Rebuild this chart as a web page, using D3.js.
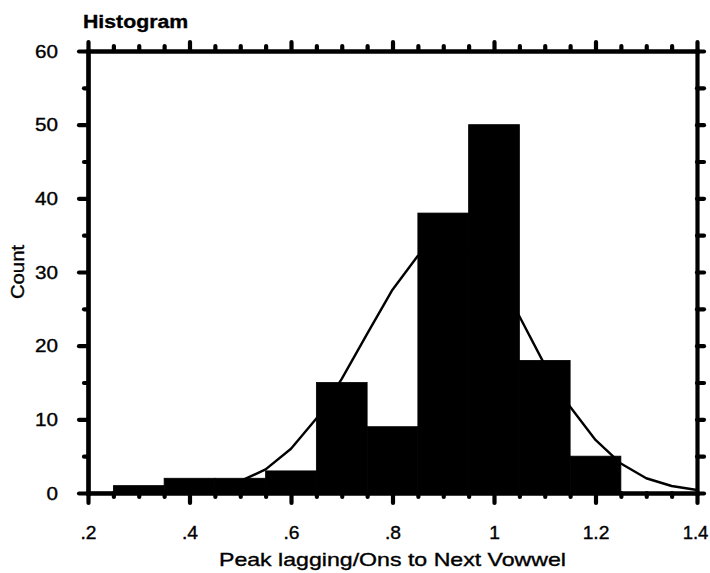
<!DOCTYPE html>
<html>
<head>
<meta charset="utf-8">
<script src="https://cdn.jsdelivr.net/npm/d3@7"></script>
<style>
  html, body { margin: 0; padding: 0; background: #fff; }
  svg { display: block; }
  text { font-family: "Liberation Sans", Arial, sans-serif; fill: #000; stroke: #000; stroke-width: 0.35px; }
</style>
</head>
<body>
<svg id="chart" width="710" height="573"></svg>
<script>
// ---- data ----
const binLo  = [0.25, 0.35, 0.45, 0.55, 0.65, 0.75, 0.85, 0.95, 1.05, 1.15];
const binHi  = [0.35, 0.45, 0.55, 0.65, 0.75, 0.85, 0.95, 1.05, 1.15, 1.25];
const counts = [1, 2, 2, 3, 15, 9, 38, 50, 18, 5];

// fitted normal curve as drawn on the chart (x, count)
const curveX = [0.20, 0.25, 0.30, 0.35, 0.40, 0.45, 0.50, 0.55, 0.60, 0.65, 0.70, 0.75, 0.80,
                0.85, 0.90, 0.95, 1.00, 1.05, 1.10, 1.15, 1.20, 1.25, 1.30, 1.35, 1.40];
const curveY = [0.0, 0.01, 0.04, 0.11, 0.30, 0.73, 1.6, 3.2, 6.0, 10.1, 15.5, 21.6, 27.6,
                32.2, 34.2, 33.1, 29.3, 24.0, 17.4, 11.7, 7.2, 4.0, 2.0, 0.95, 0.40];

const xMajor = [0.2, 0.4, 0.6, 0.8, 1.0, 1.2, 1.4];
const xLabels = [".2", ".4", ".6", ".8", "1", "1.2", "1.4"];
const xMinor = [0.25, 0.3, 0.35, 0.45, 0.5, 0.55, 0.65, 0.7, 0.75, 0.85, 0.9, 0.95,
                1.05, 1.1, 1.15, 1.25, 1.3, 1.35];
const yMajor = [0, 10, 20, 30, 40, 50, 60];
const yLabels = ["0", "10", "20", "30", "40", "50", "60"];
const yMinor = [5, 15, 25, 35, 45, 55];
const yAll = [0, 5, 10, 15, 20, 25, 30, 35, 40, 45, 50, 55, 60];

const titleText = "Histogram";
const xTitle = "Peak lagging/Ons to Next Vowwel";
const yTitle = "Count";

// ---- layout ----
const L = 88, R = 697, T = 51, B = 493;
const svg = d3.select("#chart");
svg.append("rect").attr("width", 710).attr("height", 573).attr("fill", "#fff");

const x = d3.scaleLinear().domain([0.2, 1.4]).range([L, R]);
const y = d3.scaleLinear().domain([0, 60]).range([B, T]);

// bars
svg.append("g").selectAll("rect")
  .data(counts)
  .join("rect")
  .attr("x", (d, i) => x(binLo[i]))
  .attr("width", (d, i) => x(binHi[i]) - x(binLo[i]))
  .attr("y", d => y(d))
  .attr("height", d => y(0) - y(d))
  .attr("fill", "#000")
  .attr("stroke", "#000")
  .attr("stroke-width", 0.8);

// normal curve
const pts = curveX.map((v, i) => [v, curveY[i]]);
svg.append("path")
  .datum(pts)
  .attr("fill", "none")
  .attr("stroke", "#000")
  .attr("stroke-width", 2.4)
  .attr("stroke-linejoin", "round")
  .attr("d", d3.line().x(d => x(d[0])).y(d => y(d[1])));

// axes helper
function styleAxis(g) {
  g.select(".domain").attr("stroke", "#000").attr("stroke-width", 4.2).attr("stroke-linecap", "square");
  g.selectAll(".tick line").attr("stroke", "#000").attr("stroke-width", 4.2).attr("stroke-linecap", "round");
}

// bottom
const gB1 = svg.append("g").attr("transform", `translate(0,${B})`)
  .call(d3.axisBottom(x).tickValues(xMinor).tickSize(4).tickSizeOuter(0).tickFormat(""));
styleAxis(gB1);
const gB2 = svg.append("g").attr("transform", `translate(0,${B})`)
  .call(d3.axisBottom(x).tickValues(xMajor).tickSize(10).tickSizeOuter(0).tickFormat((d, i) => xLabels[i]));
styleAxis(gB2);
gB2.selectAll(".tick text")
  .attr("y", null).attr("dy", null)
  .attr("transform", "translate(0,46) scale(1.1,1)")
  .attr("font-size", "17.5px")
  .attr("font-family", "Liberation Sans, Arial, sans-serif")
  .attr("fill", "#000")
  .attr("text-anchor", "middle");
// keep the last label inside the page, as in the reference
gB2.selectAll(".tick").filter((d, i) => i === xMajor.length - 1).select("text")
  .attr("transform", "translate(-2,46) scale(1.06,1)");

// top
const gT1 = svg.append("g").attr("transform", `translate(0,${T})`)
  .call(d3.axisTop(x).tickValues(xMinor).tickSize(5).tickSizeOuter(0).tickFormat(""));
styleAxis(gT1);
const gT2 = svg.append("g").attr("transform", `translate(0,${T})`)
  .call(d3.axisTop(x).tickValues(xMajor).tickSize(9).tickSizeOuter(0).tickFormat(""));
styleAxis(gT2);

// left
const gL1 = svg.append("g").attr("transform", `translate(${L},0)`)
  .call(d3.axisLeft(y).tickValues(yMinor).tickSize(4).tickSizeOuter(0).tickFormat(""));
styleAxis(gL1);
const gL2 = svg.append("g").attr("transform", `translate(${L},0)`)
  .call(d3.axisLeft(y).tickValues(yMajor).tickSize(9).tickSizeOuter(0).tickFormat((d, i) => yLabels[i]));
styleAxis(gL2);
gL2.selectAll(".tick text")
  .attr("x", null).attr("dy", "0.36em")
  .attr("transform", "translate(-30,0) scale(1.18,1)")
  .attr("font-size", "17.5px")
  .attr("font-family", "Liberation Sans, Arial, sans-serif")
  .attr("fill", "#000")
  .attr("text-anchor", "end");

// right
const gR = svg.append("g").attr("transform", `translate(${R},0)`)
  .call(d3.axisRight(y).tickValues(yAll).tickSize(7).tickSizeOuter(0).tickFormat(""));
styleAxis(gR);

// titles
svg.append("text")
  .attr("transform", "translate(83,28) scale(1.15,1)")
  .attr("font-size", "18.5px").attr("font-weight", "bold")
  .text(titleText);

svg.append("text")
  .attr("transform", `translate(${(L + R) / 2},566) scale(1.25,1)`)
  .attr("text-anchor", "middle")
  .attr("font-size", "18.5px")
  .text(xTitle);

svg.append("text")
  .attr("transform", `translate(24,${(T + B) / 2}) rotate(-90) scale(1.13,1)`)
  .attr("text-anchor", "middle")
  .attr("font-size", "18px")
  .text(yTitle);
</script>
</body>
</html>
